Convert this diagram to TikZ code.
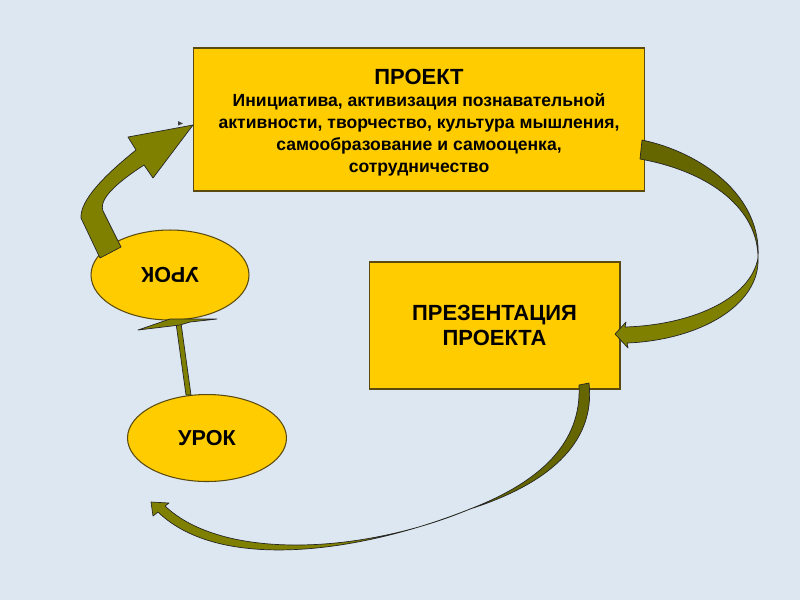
\documentclass[tikz,border=0pt]{standalone}
\usepackage{fontspec}
\setmainfont{Liberation Sans}
\usepackage{xcolor}
\usetikzlibrary{shapes.geometric}

\definecolor{fondo}{HTML}{DCE7F1}
\definecolor{amarillo}{HTML}{FFCC00}
\definecolor{borde}{HTML}{5A4A10}
\definecolor{oliva}{HTML}{808000}
\definecolor{olivaosc}{HTML}{666600}

\begin{document}
\begin{tikzpicture}[
    x=0.02cm, y=-0.02cm,
    caja/.style={draw=borde, fill=amarillo, line width=0.6pt, align=center,
                 inner sep=0pt},
    elipse/.style={ellipse, draw=borde, fill=amarillo, line width=0.6pt,
                   inner sep=0pt, font=\fontsize{12.3}{14}\selectfont\bfseries},
    cinta/.style={draw=black!85, line width=0.4pt, line join=round},
    clara/.style={cinta, fill=oliva},
    oscura/.style={cinta, fill=olivaosc}
  ]

  % --- Fondo ---
  \fill[fondo] (0,0) rectangle (800,600);
  \useasboundingbox (0,0) rectangle (800,600);

  % --- Cajas ---
  \node[caja, minimum width=90.4mm, minimum height=28.6mm,
        font=\fontsize{10}{12.5}\selectfont\bfseries] (proyecto) at (419,119.5)
       {{\fontsize{12.5}{13}\selectfont\rule{0pt}{12.6pt}ПРОЕКТ}\\
        Инициатива, активизация познавательной\\
        активности, творчество, культура мышления,\\
        самообразование и самооценка,\\
        сотрудничество};
  \node[caja, minimum width=50.2mm, minimum height=25.4mm,
        font=\fontsize{12.5}{14.7}\selectfont\bfseries] (presentacion) at (494.5,325.5)
       {ПРЕЗЕНТАЦИЯ\\ПРОЕКТА};

  % --- Elipses ---
  \node[elipse, minimum width=31.6mm, minimum height=18mm, rotate=180]
       (urokarr) at (170,275) {УРОК};
  \node[elipse, minimum width=31.8mm, minimum height=17.4mm]
       (urokab) at (207,438) {УРОК};

  % --- Flecha gruesa: urok -> proyecto ---
  \filldraw[clara] (100,258) -- (81,218) .. controls (80,200) and (105,175) .. (136,150)
        -- (128,137) -- (193,125) -- (153,178) -- (144,165)
        .. controls (118,182) and (96,200) .. (104,213) -- (121,247) -- cycle;
  \fill[black!75] (178,121) -- (183,123.5) -- (178,125.5) -- cycle;

  % --- Cinta derecha: proyecto -> presentacion ---
  \filldraw[oscura] (642,140) .. controls (700,152) and (762,195) .. (758,258)
        .. controls (758,210) and (712,172) .. (640,159) -- cycle;
  \filldraw[clara] (758,258) .. controls (760,305) and (700,340) .. (627,343)
        -- (628,348) -- (615,334) -- (626,322) -- (625,327)
        .. controls (690,325) and (750,300) .. (758,258) -- cycle;

  % --- Cinta inferior: presentacion -> urok ---
  \filldraw[oscura] (589,383) .. controls (596,445) and (545,485) .. (470,509)
        .. controls (540,482) and (582,443) .. (579,385) -- cycle;
  \filldraw[clara] (470,509) .. controls (360,553) and (220,572) .. (158,512)
        -- (153,516) -- (151,502) -- (169,503) -- (165,506)
        .. controls (222,560) and (360,555) .. (470,509) -- cycle;

  % --- Flecha fina: urok -> urok ---
  \filldraw[clara] (186,395) -- (191,395) -- (181,323) -- (176,323) -- cycle;
  \filldraw[clara] (138,330) -- (170,319) -- (217,319) -- (190,322)
        -- (180,325) -- cycle;
\end{tikzpicture}
\end{document}
